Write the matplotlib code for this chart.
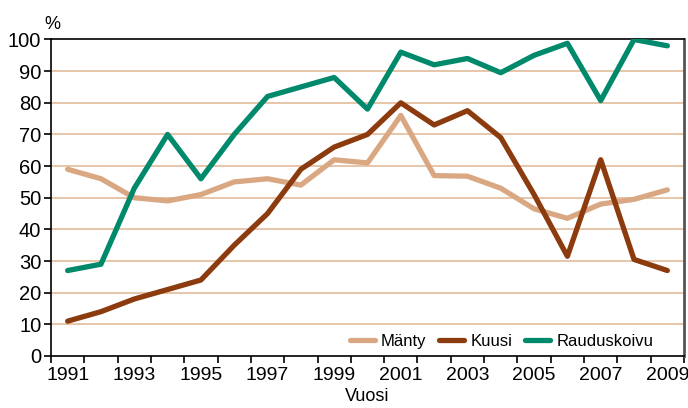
import matplotlib
matplotlib.use('Agg')
import matplotlib.pyplot as plt
import numpy as np

plt.rcParams['font.family'] = ['Liberation Sans', 'DejaVu Sans']

vuodet = list(range(1991, 2010))
manty = [59, 56, 50, 49, 51, 55, 56, 54, 62, 61, 76, 57, 56.8, 53, 46.5, 43.5, 48, 49.5, 52.5]
kuusi = [11, 14, 18, 21, 24, 35, 45, 59, 66, 70, 80, 73, 77.5, 69, 51, 31.5, 62, 30.5, 27]
rauduskoivu = [27, 29, 53, 70, 56, 70, 82, 85, 88, 78, 96, 92, 94, 89.5, 95, 98.8, 80.7, 100, 98]

fig = plt.figure(figsize=(6.88, 4.08), dpi=100)
ax = fig.add_axes([0.0741, 0.1275, 0.9201, 0.7757])

x = np.arange(len(vuodet))
grid_c = '#e3bc9c'
for v in range(10, 100, 10):
    ax.axhline(v, color=grid_c, lw=1.2, zorder=1)

lw = 3.8
ax.plot(x, manty, color='#d9a883', lw=lw, label='Mänty', zorder=3, solid_capstyle='round')
ax.plot(x, kuusi, color='#8c3b0e', lw=lw, label='Kuusi', zorder=4, solid_capstyle='round')
ax.plot(x, rauduskoivu, color='#00896b', lw=lw, label='Rauduskoivu', zorder=5, solid_capstyle='round')

ax.set_xlim(-0.5, len(vuodet) - 0.5)
ax.set_ylim(0, 100)
ax.set_yticks(range(0, 101, 10))
ax.set_xticks(np.arange(-0.5, len(vuodet), 1))
ax.set_xticklabels([])
ax.set_xticks(x[::2], minor=True)
ax.set_xticklabels([str(v) for v in vuodet[::2]], minor=True)
ax.tick_params(axis='x', which='minor', length=0, pad=8, labelsize=14)
ax.tick_params(axis='x', which='major', length=5, width=1.2, direction='out')
ax.tick_params(axis='y', length=5, width=1.2, labelsize=14.5, pad=2)

for s in ['left', 'bottom', 'top']:
    ax.spines[s].set_color('black')
    ax.spines[s].set_linewidth(1.2)
ax.spines['right'].set_color('#555555')
ax.spines['right'].set_linewidth(2)

ax.set_xlabel('Vuosi', fontsize=13, labelpad=3)
fig.text(0.076, 0.92, '%', fontsize=13, ha='center', va='bottom')

ax.legend(loc='lower right', bbox_to_anchor=(0.975, -0.025), ncol=3, frameon=False,
          fontsize=12, handlelength=1.5, columnspacing=0.8, handletextpad=0.35)

fig.savefig('out.png', dpi=100)
